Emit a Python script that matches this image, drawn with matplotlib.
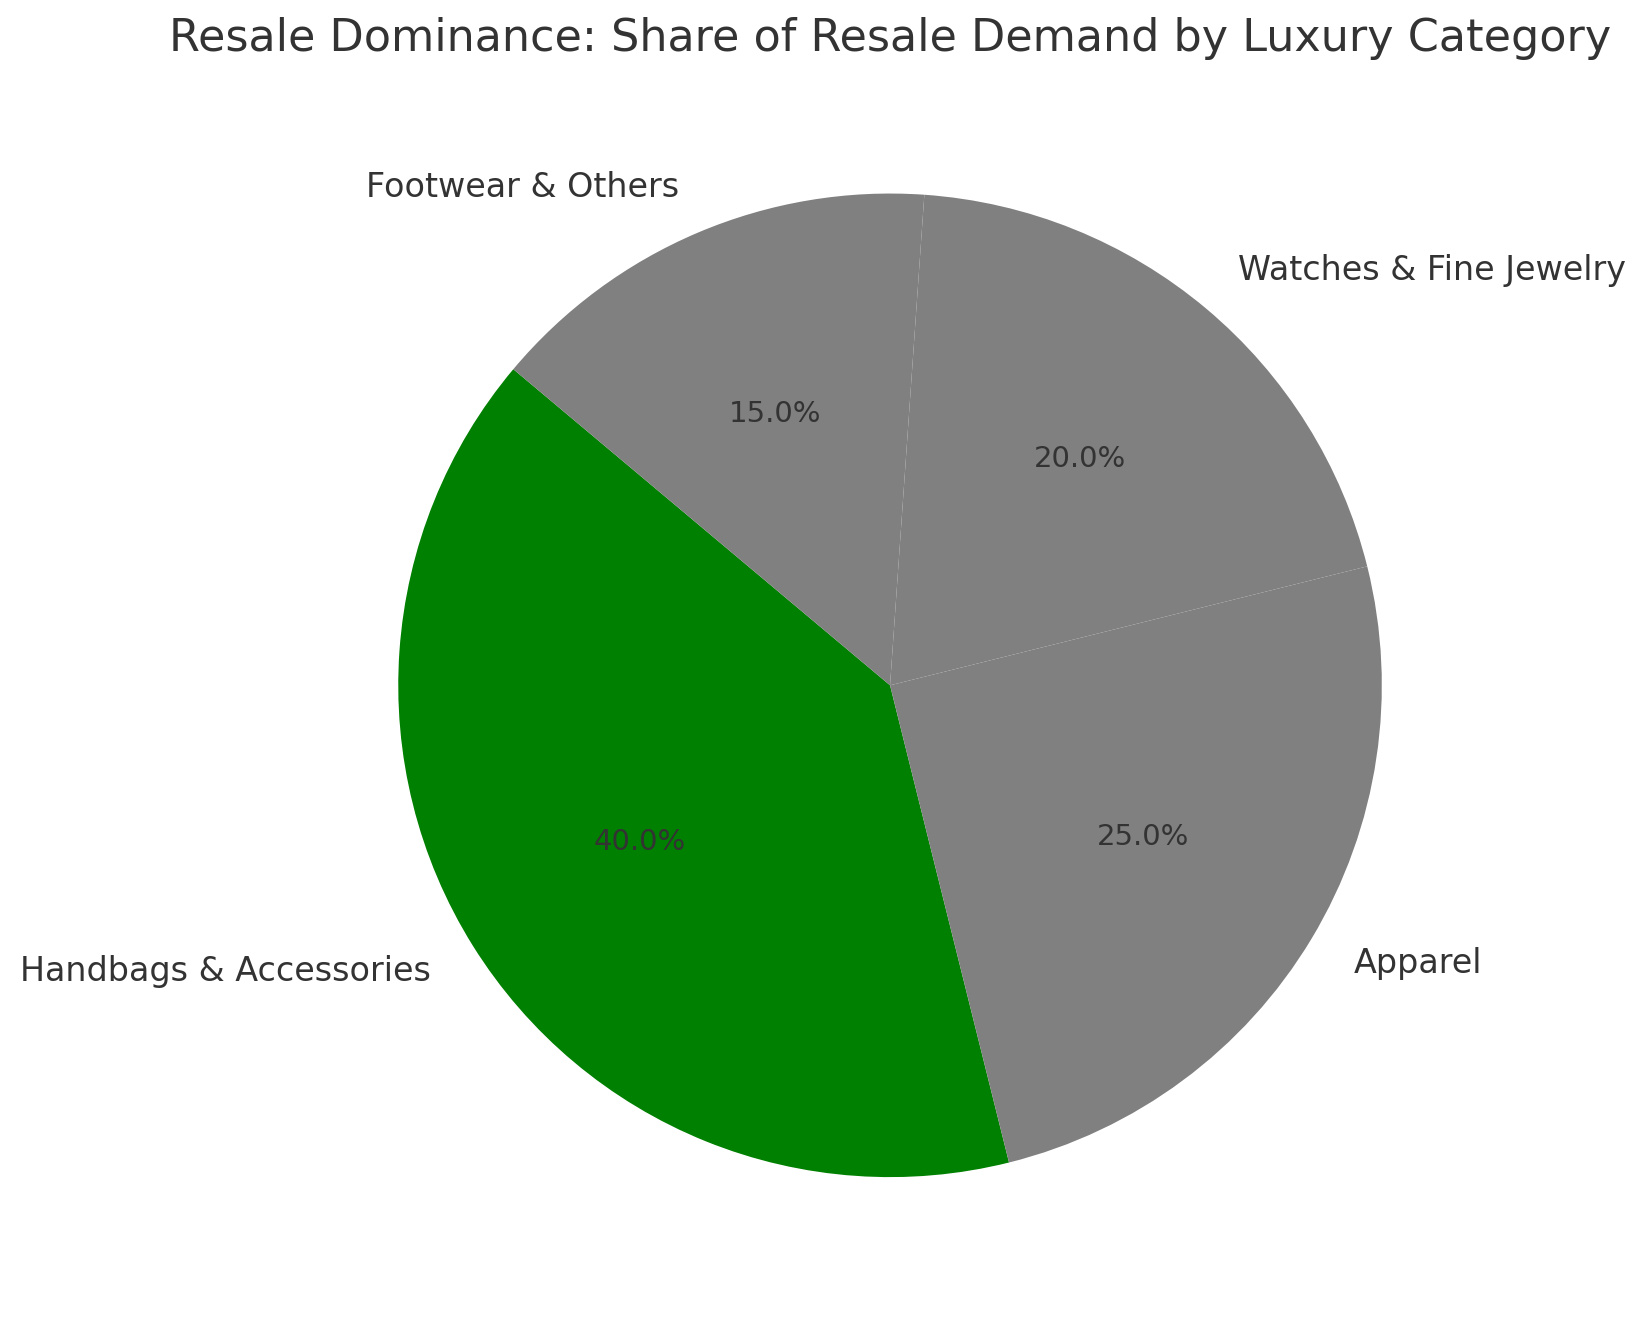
import matplotlib
matplotlib.use("Agg")
import matplotlib.pyplot as plt
import seaborn as sns

sns.set_theme(style="white")
plt.rcParams['font.family'] = ['DejaVu Sans']
plt.rcParams['text.color'] = '#333333'

# data
categories = ["Handbags & Accessories", "Apparel", "Watches & Fine Jewelry", "Footwear & Others"]
shares = [40, 25, 20, 15]
colors = ["green", "gray", "gray", "gray"]

fig = plt.figure(figsize=(1647 / 200, 1322 / 200))
ax = fig.add_axes([0.167, 0.0166, 0.7468, 0.930])

wedges, texts, autotexts = ax.pie(
    shares,
    labels=categories,
    colors=colors,
    autopct="%1.1f%%",
    startangle=140,
    wedgeprops={"linewidth": 0},
)
for t in texts:
    t.set_fontsize(12)
for t in autotexts:
    t.set_fontsize(10.5)

ax.set_title("Resale Dominance: Share of Resale Demand by Luxury Category", fontsize=16, pad=7)

fig.savefig("out.png", dpi=200)
